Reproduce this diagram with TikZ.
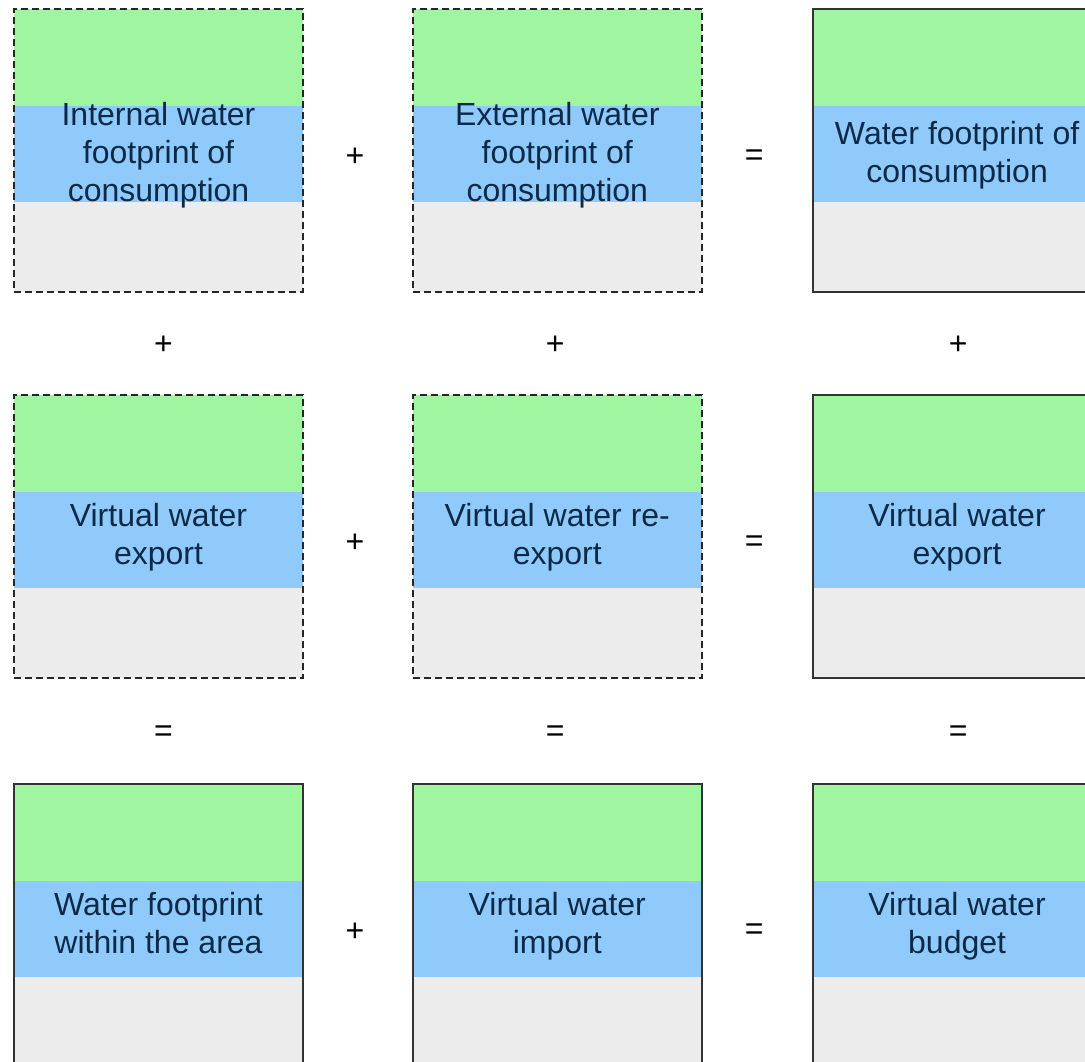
\documentclass[tikz,border=0pt]{standalone}
\usepackage{fontspec}
\setmainfont{Liberation Sans}
\usepackage{xcolor}
\usepackage{tikz}
\usetikzlibrary{positioning,calc}

\definecolor{bandgreen}{HTML}{A0F5A0}
\definecolor{bandblue}{HTML}{8FCAFB}
\definecolor{bandgray}{HTML}{ECECEC}
\definecolor{labelnavy}{HTML}{0C2A48}

\begin{document}
\begin{tikzpicture}[x=1pt,y=-1pt,
    wbox/.style={minimum width=289pt, minimum height=283pt, inner sep=0pt,
        fill=bandgray, line width=1.8pt,
        path picture={
            \fill[bandgreen] (path picture bounding box.north west)
                rectangle ([yshift=-97pt]path picture bounding box.north east);
            \fill[bandblue] ([yshift=-97pt]path picture bounding box.north west)
                rectangle ([yshift=-193pt]path picture bounding box.north east);
        }},
    part/.style={wbox, draw=black!85, dash pattern=on 7pt off 4pt},
    total/.style={wbox, draw=black!80},
    wtext/.style={text=labelnavy, align=center, inner sep=0pt,
        font=\fontsize{32}{38}\selectfont},
    op/.style={font=\fontsize{32}{32}\selectfont, text=black, inner sep=0pt},
    node distance=101pt and 108pt]
    \clip (0,0) rectangle (1085,1062);

    % first row
    \node[part] (b11) at (158.5,150.5) {};
    \node[part, right=of b11] (b12) {};
    \node[total, right=109pt of b12] (b13) {};

    % second row
    \node[part, below=of b11] (b21) {};
    \node[part, right=of b21] (b22) {};
    \node[total, right=109pt of b22] (b23) {};

    % third row
    \node[total, below=104pt of b21] (b31) {};
    \node[total, right=of b31] (b32) {};
    \node[total, right=109pt of b32] (b33) {};

    % texts
    \node[wtext] (t11) at ([yshift=-5pt]b11.center) {Internal water\\footprint of\\consumption};
    \node[wtext] (t12) at ([yshift=-5pt]b12.center) {External water\\footprint of\\consumption};
    \node[wtext] (t13) at ([yshift=-5pt]b13.center) {Water footprint of\\consumption};
    \node[wtext] (t21) at ([yshift=-1pt]b21.center) {Virtual water\\export};
    \node[wtext] (t22) at ([yshift=-1pt]b22.center) {Virtual water re-\\export};
    \node[wtext] (t23) at ([yshift=-1pt]b23.center) {Virtual water\\export};
    \node[wtext] (t31) at ([yshift=2pt]b31.center) {Water footprint\\within the area};
    \node[wtext] (t32) at ([yshift=-1pt]b32.center) {Virtual water\\import};
    \node[wtext] (t33) at ([yshift=-1pt]b33.center) {Virtual water\\budget};

    % signs between the columns
    \node[op] (p11) at ($($(b11.east)!0.5!(b12.west)$)+(-3,7)$) {+};
    \node[op] (e12) at ($($(b12.east)!0.5!(b13.west)$)+(-3,7)$) {=};
    \node[op] (p21) at ($($(b21.east)!0.5!(b22.west)$)+(-3,7)$) {+};
    \node[op] (e22) at ($($(b22.east)!0.5!(b23.west)$)+(-3,7)$) {=};
    \node[op] (p31) at ($($(b31.east)!0.5!(b32.west)$)+(-3,7)$) {+};
    \node[op] (e32) at ($($(b32.east)!0.5!(b33.west)$)+(-3,7)$) {=};

    % signs between the rows
    \node[op] (p1) at ($($(b11.south)!0.5!(b21.north)$)+(5,2)$) {+};
    \node[op] (p2) at ($($(b12.south)!0.5!(b22.north)$)+(-2,2)$) {+};
    \node[op] (p3) at ($($(b13.south)!0.5!(b23.north)$)+(1,2)$) {+};
    \node[op] (e1) at ($($(b21.south)!0.5!(b31.north)$)+(5,3)$) {=};
    \node[op] (e2) at ($($(b22.south)!0.5!(b32.north)$)+(-2,3)$) {=};
    \node[op] (e3) at ($($(b23.south)!0.5!(b33.north)$)+(1,3)$) {=};
\end{tikzpicture}
\end{document}
